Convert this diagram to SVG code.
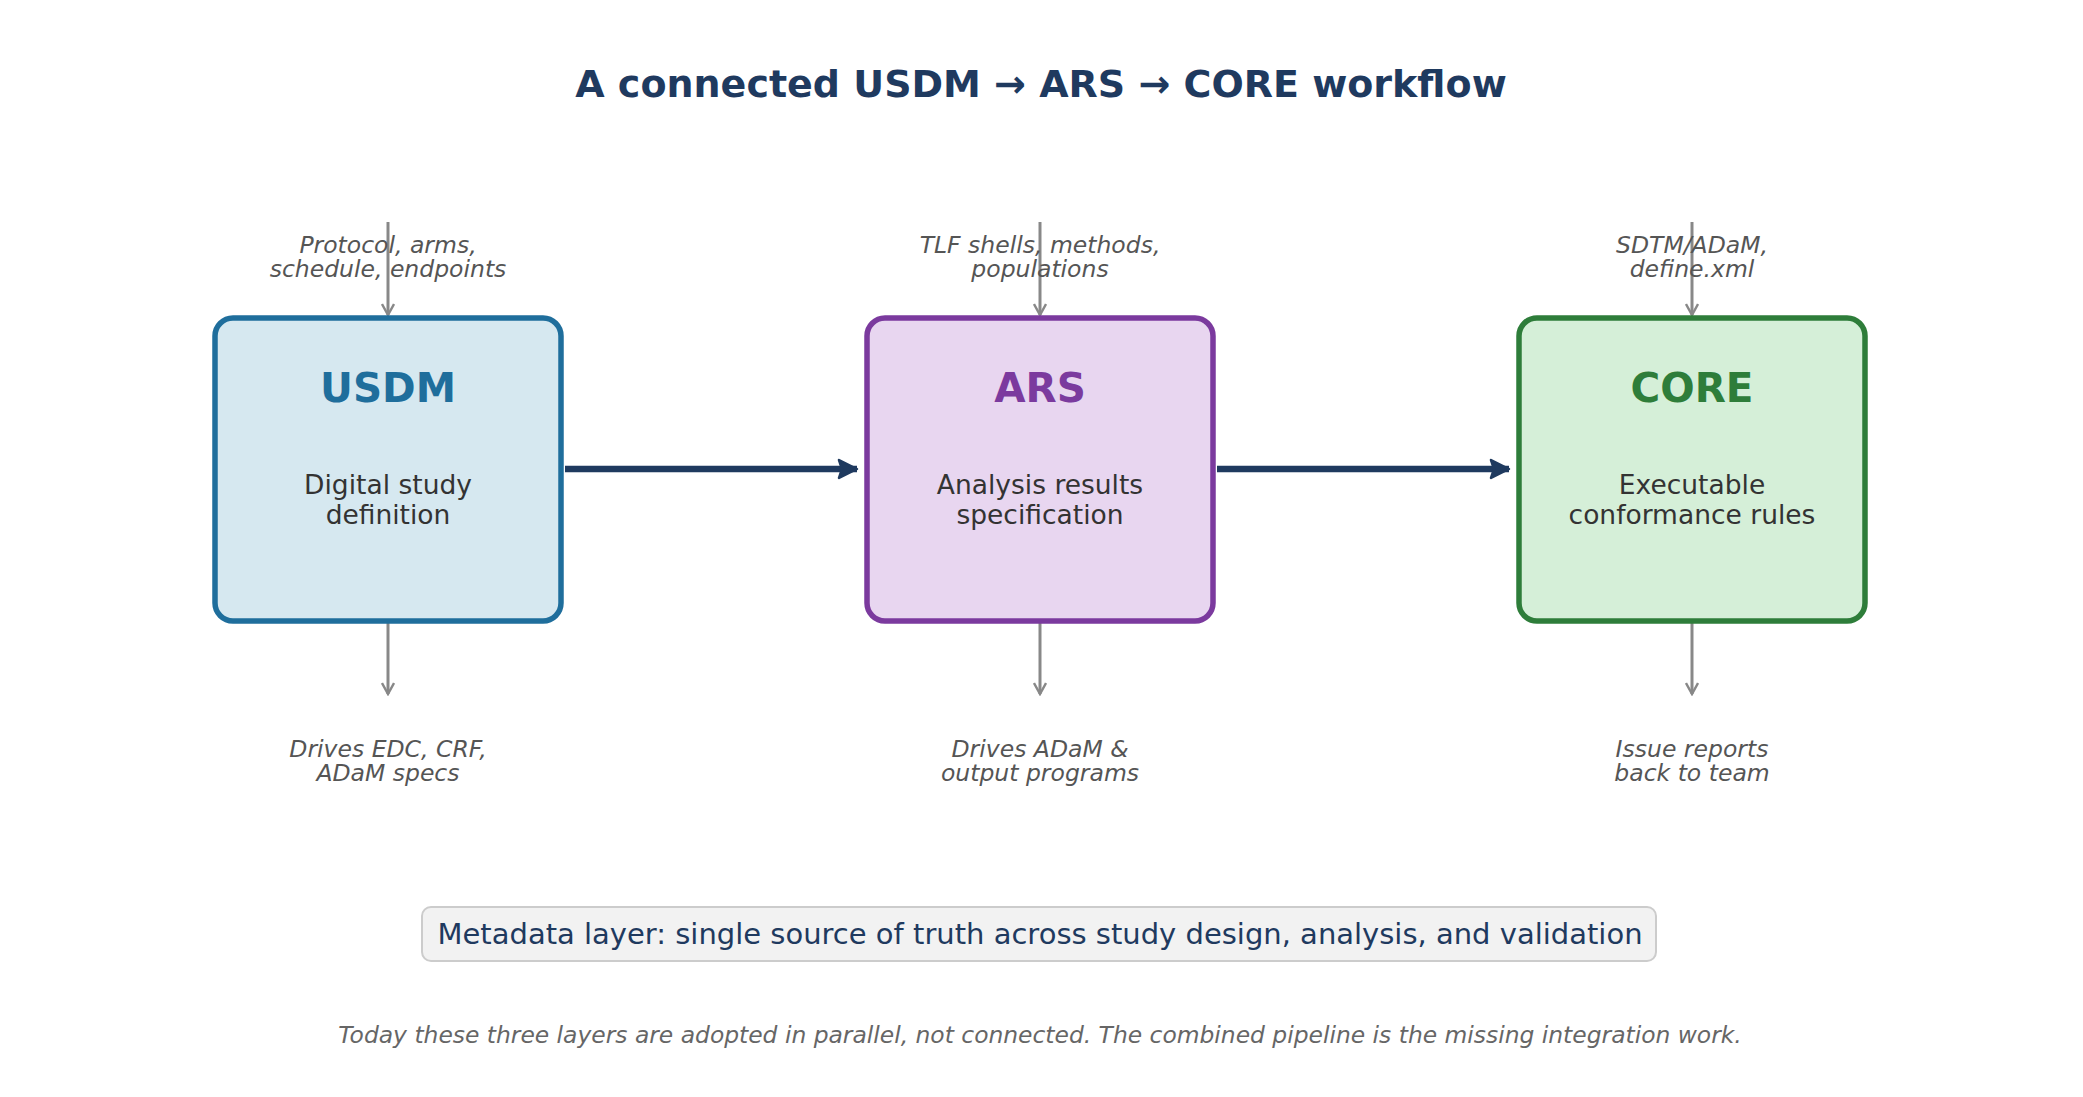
<svg xmlns="http://www.w3.org/2000/svg" width="2083" height="1097" viewBox="0 0 2083 1097">
<style>
text{font-family:"DejaVu Sans","Liberation Sans",sans-serif;text-anchor:middle}
.title{font-size:38px;font-weight:bold;fill:#1f3a5f}
.name{font-size:40.5px;font-weight:bold}
.desc{font-size:26.5px;fill:#333333}
.note{font-size:23.5px;font-style:italic;fill:#555555}
.feed{stroke:#888888;stroke-width:3;fill:none}
.flow{stroke:#1f3a5f;stroke-width:6.5;fill:none}
.meta{font-size:29px;fill:#1f3a5f}
.foot{font-size:23.4px;font-style:italic;fill:#666666}
</style>
<defs>
<marker id="open" viewBox="0 0 14 14" refX="12" refY="7" markerWidth="14" markerHeight="14" markerUnits="userSpaceOnUse" orient="auto">
<path d="M1,1 L12,7 L1,13" fill="none" stroke="#888888" stroke-width="2.4"/>
</marker>
<marker id="solid" viewBox="0 0 22 22" refX="20" refY="11" markerWidth="22" markerHeight="22" markerUnits="userSpaceOnUse" orient="auto">
<path d="M2,2 L20,11 L2,20 L5,11 Z" fill="#1f3a5f" stroke="#1f3a5f" stroke-width="2.5" stroke-linejoin="round"/>
</marker>
</defs>
<rect width="2083" height="1097" fill="#ffffff"/>
<text class="title" x="1041" y="97">A connected USDM → ARS → CORE workflow</text>

<g id="connectors">
<line class="feed" x1="388" y1="222" x2="388" y2="315" marker-end="url(#open)"/>
<line class="feed" x1="1040" y1="222" x2="1040" y2="315" marker-end="url(#open)"/>
<line class="feed" x1="1692" y1="222" x2="1692" y2="315" marker-end="url(#open)"/>
<line class="feed" x1="388" y1="623" x2="388" y2="694" marker-end="url(#open)"/>
<line class="feed" x1="1040" y1="623" x2="1040" y2="694" marker-end="url(#open)"/>
<line class="feed" x1="1692" y1="623" x2="1692" y2="694" marker-end="url(#open)"/>
<line class="flow" x1="565" y1="469" x2="857" y2="469" marker-end="url(#solid)"/>
<line class="flow" x1="1217" y1="469" x2="1509" y2="469" marker-end="url(#solid)"/>
</g>

<g id="usdm">
<rect x="215" y="318" width="346" height="303" rx="18" fill="#d6e8f0" stroke="#1f6e9c" stroke-width="5.5"/>
<text class="name" x="388" y="402" fill="#1f6e9c">USDM</text>
<text class="desc" x="388" y="494">Digital study</text>
<text class="desc" x="388" y="524">definition</text>
<text class="note" x="388" y="253">Protocol, arms,</text>
<text class="note" x="388" y="277">schedule, endpoints</text>
<text class="note" x="388" y="757">Drives EDC, CRF,</text>
<text class="note" x="388" y="781">ADaM specs</text>
</g>

<g id="ars">
<rect x="867" y="318" width="346" height="303" rx="18" fill="#e8d6f0" stroke="#7b3a9e" stroke-width="5.5"/>
<text class="name" x="1040" y="402" fill="#7b3a9e">ARS</text>
<text class="desc" x="1040" y="494">Analysis results</text>
<text class="desc" x="1040" y="524">specification</text>
<text class="note" x="1040" y="253">TLF shells, methods,</text>
<text class="note" x="1040" y="277">populations</text>
<text class="note" x="1040" y="757">Drives ADaM &amp;</text>
<text class="note" x="1040" y="781">output programs</text>
</g>

<g id="core">
<rect x="1519" y="318" width="346" height="303" rx="18" fill="#d5efd8" stroke="#2e7d3a" stroke-width="5.5"/>
<text class="name" x="1692" y="402" fill="#2e7d3a">CORE</text>
<text class="desc" x="1692" y="494">Executable</text>
<text class="desc" x="1692" y="524">conformance rules</text>
<text class="note" x="1692" y="253">SDTM/ADaM,</text>
<text class="note" x="1692" y="277">define.xml</text>
<text class="note" x="1692" y="757">Issue reports</text>
<text class="note" x="1692" y="781">back to team</text>
</g>

<g id="metadata">
<rect x="422" y="907" width="1234" height="54" rx="9" fill="#f2f2f2" stroke="#cccccc" stroke-width="2"/>
<text class="meta" x="1040" y="944">Metadata layer: single source of truth across study design, analysis, and validation</text>
</g>

<text class="foot" x="1040" y="1043">Today these three layers are adopted in parallel, not connected. The combined pipeline is the missing integration work.</text>
</svg>
